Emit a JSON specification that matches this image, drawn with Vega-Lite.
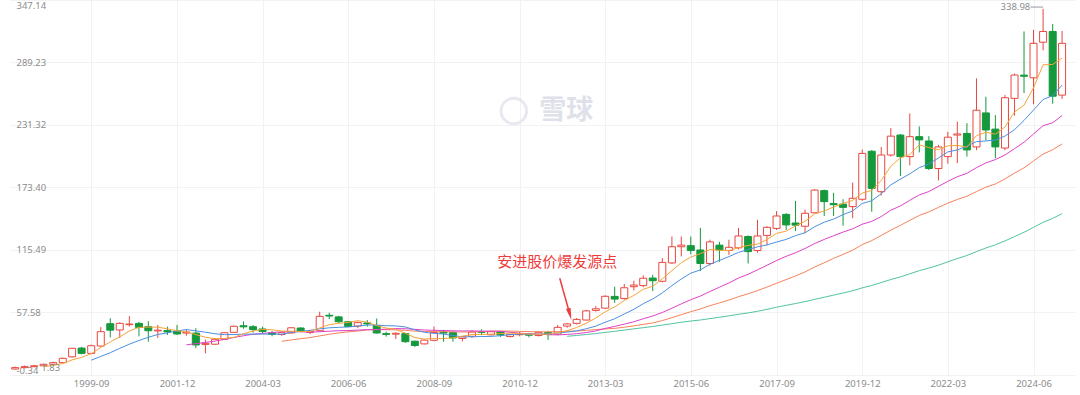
{
  "$schema": "https://vega.github.io/schema/vega-lite/v6.json",
  "width": 1065,
  "height": 375,
  "autosize": {"type": "none"},
  "padding": {"left": 10, "top": 0, "right": 5, "bottom": 20},
  "background": "white",
  "config": {"view": {"stroke": null}, "font": "Noto Sans"},
  "datasets": {
    "k": [
      {"d":"1997-06-30","o":3.0,"h":6.0,"l":1.83,"c":5.2},
      {"d":"1997-09-30","o":5.2,"h":7.5,"l":4.8,"c":6.5},
      {"d":"1997-12-31","o":6.5,"h":8.5,"l":5.8,"c":7.4},
      {"d":"1998-03-31","o":7.4,"h":9.0,"l":6.8,"c":8.2},
      {"d":"1998-06-30","o":8.2,"h":10.2,"l":7.6,"c":9.6},
      {"d":"1998-09-30","o":9.6,"h":12.0,"l":9.0,"c":11.1},
      {"d":"1998-12-31","o":11.1,"h":15.8,"l":10.5,"c":15.1},
      {"d":"1999-03-31","o":16.5,"h":24.8,"l":15.8,"c":24.4},
      {"d":"1999-06-30","o":24.6,"h":25.8,"l":18.8,"c":19.7},
      {"d":"1999-09-30","o":19.7,"h":27.8,"l":19.0,"c":26.8},
      {"d":"1999-12-31","o":26.5,"h":44.0,"l":25.8,"c":39.8},
      {"d":"2000-03-31","o":47.2,"h":52.2,"l":34.5,"c":41.2},
      {"d":"2000-06-30","o":41.4,"h":48.5,"l":34.0,"c":47.5},
      {"d":"2000-09-30","o":46.3,"h":54.3,"l":44.5,"c":46.9},
      {"d":"2000-12-31","o":47.5,"h":49.0,"l":35.5,"c":43.8},
      {"d":"2001-03-31","o":44.4,"h":49.5,"l":30.5,"c":40.7},
      {"d":"2001-06-30","o":40.5,"h":46.0,"l":34.0,"c":41.2},
      {"d":"2001-09-30","o":40.8,"h":44.5,"l":36.7,"c":39.6},
      {"d":"2001-12-31","o":40.4,"h":46.0,"l":36.7,"c":37.7},
      {"d":"2002-03-31","o":38.5,"h":42.0,"l":36.0,"c":39.5},
      {"d":"2002-06-30","o":38.5,"h":43.0,"l":24.5,"c":27.5},
      {"d":"2002-09-30","o":28.0,"h":32.5,"l":19.7,"c":29.0},
      {"d":"2002-12-31","o":28.2,"h":33.5,"l":27.5,"c":32.7},
      {"d":"2003-03-31","o":32.8,"h":39.5,"l":32.0,"c":38.8},
      {"d":"2003-06-30","o":39.2,"h":45.5,"l":38.8,"c":44.8},
      {"d":"2003-09-30","o":45.3,"h":49.2,"l":42.5,"c":44.3},
      {"d":"2003-12-31","o":44.4,"h":46.0,"l":38.9,"c":41.7},
      {"d":"2004-03-31","o":42.3,"h":44.5,"l":38.3,"c":39.9},
      {"d":"2004-06-30","o":38.8,"h":40.5,"l":35.5,"c":37.2},
      {"d":"2004-09-30","o":37.2,"h":39.8,"l":36.0,"c":38.9},
      {"d":"2004-12-31","o":38.6,"h":44.0,"l":38.0,"c":43.4},
      {"d":"2005-03-31","o":43.2,"h":43.8,"l":39.5,"c":39.9},
      {"d":"2005-06-30","o":39.0,"h":41.5,"l":37.5,"c":40.2},
      {"d":"2005-09-30","o":40.7,"h":58.3,"l":39.8,"c":54.0},
      {"d":"2005-12-31","o":55.0,"h":57.4,"l":51.5,"c":54.3},
      {"d":"2006-03-31","o":53.5,"h":54.5,"l":48.0,"c":49.0},
      {"d":"2006-06-30","o":49.0,"h":49.5,"l":44.0,"c":44.6},
      {"d":"2006-09-30","o":45.0,"h":49.3,"l":43.0,"c":48.2},
      {"d":"2006-12-31","o":47.9,"h":50.5,"l":44.5,"c":47.0},
      {"d":"2007-03-31","o":45.5,"h":52.0,"l":38.0,"c":38.6},
      {"d":"2007-06-30","o":38.0,"h":39.8,"l":35.2,"c":37.3},
      {"d":"2007-09-30","o":37.5,"h":39.2,"l":33.0,"c":38.3},
      {"d":"2007-12-31","o":38.0,"h":38.8,"l":29.5,"c":30.5},
      {"d":"2008-03-31","o":31.0,"h":31.5,"l":25.5,"c":27.0},
      {"d":"2008-06-30","o":28.5,"h":32.5,"l":28.0,"c":32.0},
      {"d":"2008-09-30","o":31.8,"h":44.5,"l":31.0,"c":39.0},
      {"d":"2008-12-31","o":39.5,"h":41.5,"l":30.5,"c":38.5},
      {"d":"2009-03-31","o":39.0,"h":40.0,"l":30.5,"c":34.0},
      {"d":"2009-06-30","o":33.5,"h":35.5,"l":30.8,"c":35.0},
      {"d":"2009-09-30","o":35.5,"h":41.0,"l":34.0,"c":39.5},
      {"d":"2009-12-31","o":39.8,"h":42.0,"l":36.5,"c":39.2},
      {"d":"2010-03-31","o":36.9,"h":40.5,"l":36.5,"c":39.8},
      {"d":"2010-06-30","o":39.8,"h":40.5,"l":35.0,"c":36.8},
      {"d":"2010-09-30","o":35.3,"h":37.8,"l":34.5,"c":37.0},
      {"d":"2010-12-31","o":37.0,"h":39.5,"l":35.5,"c":37.5},
      {"d":"2011-03-31","o":37.5,"h":38.5,"l":34.5,"c":36.5},
      {"d":"2011-06-30","o":36.2,"h":40.0,"l":35.5,"c":39.2},
      {"d":"2011-09-30","o":39.0,"h":40.5,"l":32.2,"c":37.2},
      {"d":"2011-12-31","o":37.5,"h":46.0,"l":36.5,"c":43.8},
      {"d":"2012-03-31","o":45.0,"h":48.0,"l":43.5,"c":47.0},
      {"d":"2012-06-30","o":47.5,"h":52.5,"l":46.5,"c":51.2},
      {"d":"2012-09-30","o":50.6,"h":60.0,"l":50.0,"c":59.1},
      {"d":"2012-12-31","o":59.5,"h":63.5,"l":58.5,"c":61.0},
      {"d":"2013-03-31","o":61.6,"h":73.5,"l":61.0,"c":72.6},
      {"d":"2013-06-30","o":72.5,"h":81.5,"l":66.5,"c":70.0},
      {"d":"2013-09-30","o":70.5,"h":84.0,"l":69.5,"c":80.5},
      {"d":"2013-12-31","o":81.5,"h":87.0,"l":78.0,"c":83.0},
      {"d":"2014-03-31","o":82.5,"h":92.0,"l":81.0,"c":89.3},
      {"d":"2014-06-30","o":89.5,"h":92.5,"l":77.5,"c":87.0},
      {"d":"2014-09-30","o":86.5,"h":108.0,"l":85.5,"c":104.0},
      {"d":"2014-12-31","o":103.5,"h":128.0,"l":102.5,"c":118.5},
      {"d":"2015-03-31","o":118.5,"h":128.0,"l":109.5,"c":120.0},
      {"d":"2015-06-30","o":119.5,"h":128.0,"l":111.5,"c":115.0},
      {"d":"2015-09-30","o":115.5,"h":136.0,"l":96.0,"c":103.0},
      {"d":"2015-12-31","o":103.0,"h":125.0,"l":101.0,"c":123.0},
      {"d":"2016-03-31","o":120.0,"h":123.0,"l":104.5,"c":115.5},
      {"d":"2016-06-30","o":115.0,"h":125.0,"l":111.0,"c":118.0},
      {"d":"2016-09-30","o":117.5,"h":136.0,"l":116.0,"c":128.5},
      {"d":"2016-12-31","o":128.0,"h":129.0,"l":103.0,"c":114.0},
      {"d":"2017-03-31","o":115.0,"h":143.5,"l":113.0,"c":128.5},
      {"d":"2017-06-30","o":129.0,"h":137.5,"l":120.0,"c":136.5},
      {"d":"2017-09-30","o":135.5,"h":151.5,"l":134.0,"c":147.0},
      {"d":"2017-12-31","o":148.5,"h":149.5,"l":134.0,"c":138.7},
      {"d":"2018-03-31","o":140.5,"h":161.0,"l":133.0,"c":138.5},
      {"d":"2018-06-30","o":137.5,"h":153.0,"l":131.0,"c":149.5},
      {"d":"2018-09-30","o":150.0,"h":172.0,"l":149.5,"c":171.0},
      {"d":"2018-12-31","o":170.5,"h":171.5,"l":147.0,"c":160.3},
      {"d":"2019-03-31","o":158.5,"h":168.5,"l":147.0,"c":157.5},
      {"d":"2019-06-30","o":158.0,"h":162.5,"l":138.0,"c":155.0},
      {"d":"2019-09-30","o":155.7,"h":178.0,"l":145.0,"c":163.4},
      {"d":"2019-12-31","o":162.5,"h":208.5,"l":161.0,"c":205.0},
      {"d":"2020-03-31","o":207.0,"h":208.0,"l":151.0,"c":172.6},
      {"d":"2020-06-30","o":169.5,"h":211.0,"l":166.0,"c":203.5},
      {"d":"2020-09-30","o":203.5,"h":228.5,"l":202.0,"c":221.0},
      {"d":"2020-12-31","o":222.0,"h":223.0,"l":184.0,"c":202.0},
      {"d":"2021-03-31","o":202.0,"h":242.0,"l":194.0,"c":220.5},
      {"d":"2021-06-30","o":220.5,"h":230.0,"l":206.0,"c":217.5},
      {"d":"2021-09-30","o":216.5,"h":221.0,"l":189.5,"c":191.0},
      {"d":"2021-12-31","o":191.0,"h":213.0,"l":180.0,"c":211.0},
      {"d":"2022-03-31","o":202.0,"h":225.0,"l":195.5,"c":220.0},
      {"d":"2022-06-30","o":222.0,"h":234.5,"l":196.0,"c":223.0},
      {"d":"2022-09-30","o":223.5,"h":233.0,"l":202.0,"c":208.2},
      {"d":"2022-12-31","o":211.0,"h":274.5,"l":208.0,"c":245.0},
      {"d":"2023-03-31","o":242.5,"h":257.5,"l":217.0,"c":226.7},
      {"d":"2023-06-30","o":227.5,"h":240.5,"l":200.5,"c":211.0},
      {"d":"2023-09-30","o":210.0,"h":259.0,"l":208.0,"c":256.6},
      {"d":"2023-12-31","o":256.0,"h":279.0,"l":240.0,"c":277.6},
      {"d":"2024-03-31","o":277.5,"h":318.0,"l":261.0,"c":276.5},
      {"d":"2024-06-30","o":275.0,"h":319.5,"l":250.5,"c":307.0},
      {"d":"2024-09-30","o":308.0,"h":338.98,"l":300.5,"c":318.0},
      {"d":"2024-12-31","o":318.0,"h":325.0,"l":251.0,"c":258.0},
      {"d":"2025-03-31","o":259.0,"h":318.5,"l":255.5,"c":307.0}
    ]
  },
  "layer": [
    {
      "data": {"values": [{"d": "2010-11-05", "v": 244.3}]},
      "mark": {"type": "point", "shape": "circle", "size": 650, "filled": false, "stroke": "#dfe1ea", "strokeWidth": 3, "clip": true},
      "encoding": {
        "x": {"field": "d", "type": "temporal", "title": null, "scale": {"type": "utc", "domain": [{"year": 1997, "month": 9, "date": 29, "utc": true}, {"year": 2025, "month": 6, "date": 15, "utc": true}]}},
        "y": {"field": "v", "type": "quantitative", "title": null, "scale": {"domain": [-0.34, 347.14], "nice": false, "zero": false}}
      }
    },
    {
      "data": {"values": [{"d": "2012-03-22", "v": 244.3, "t": "雪球"}]},
      "mark": {"type": "text", "font": "Noto Sans CJK SC", "fontSize": 27, "fontWeight": "bold", "color": "#dfe1ea", "align": "center", "baseline": "middle"},
      "encoding": {
        "x": {"field": "d", "type": "temporal", "title": null, "scale": {"type": "utc", "domain": [{"year": 1997, "month": 9, "date": 29, "utc": true}, {"year": 2025, "month": 6, "date": 15, "utc": true}]}},
        "y": {"field": "v", "type": "quantitative", "title": null, "scale": {"domain": [-0.34, 347.14], "nice": false, "zero": false}},
        "text": {"field": "t"}
      }
    },
    {
      "data": {"name": "k"},
      "mark": {"type": "rule", "strokeWidth": 1, "clip": true},
      "encoding": {
        "x": {"field": "d", "type": "temporal", "title": null,
          "scale": {"type": "utc", "domain": [{"year": 1997, "month": 9, "date": 29, "utc": true}, {"year": 2025, "month": 6, "date": 15, "utc": true}]},
          "axis": {"title": null, "format": "%Y-%m", "grid": true, "gridColor": "#f2f2f2", "domain": false, "ticks": false, "labelPadding": 3, "labelColor": "#8c8c8c", "labelFontSize": 9.5, "labelOverlap": false, "labelFlush": false,
            "values": [
              {"year": 1999, "month": 9, "date": 30, "utc": true},
              {"year": 2001, "month": 12, "date": 31, "utc": true},
              {"year": 2004, "month": 3, "date": 31, "utc": true},
              {"year": 2006, "month": 6, "date": 30, "utc": true},
              {"year": 2008, "month": 9, "date": 30, "utc": true},
              {"year": 2010, "month": 12, "date": 31, "utc": true},
              {"year": 2013, "month": 3, "date": 31, "utc": true},
              {"year": 2015, "month": 6, "date": 30, "utc": true},
              {"year": 2017, "month": 9, "date": 30, "utc": true},
              {"year": 2019, "month": 12, "date": 31, "utc": true},
              {"year": 2022, "month": 3, "date": 31, "utc": true},
              {"year": 2024, "month": 6, "date": 30, "utc": true}
            ]}},
        "y": {"field": "l", "type": "quantitative", "title": null,
          "scale": {"domain": [-0.34, 347.14], "nice": false, "zero": false},
          "axis": {"title": null, "values": [-0.34, 57.58, 115.49, 173.40, 231.32, 289.23, 347.14], "labelExpr": "replace(format(datum.value, '.2f'), '\u2212', '-')", "grid": true, "gridColor": "#f2f2f2", "domain": false, "ticks": false, "tickSize": 0, "labelAlign": "left", "labelPadding": -6, "labelFlush": true, "labelColor": "#8c8c8c", "labelFontSize": 9.5, "labelOverlap": false}},
        "y2": {"field": "h"},
        "color": {"condition": {"test": "datum.c >= datum.o", "value": "#e9473f"}, "value": "#14993c"}
      }
    },
    {
      "data": {"name": "k"},
      "mark": {"type": "bar", "width": 7, "strokeWidth": 1, "clip": true},
      "encoding": {
        "x": {"field": "d", "type": "temporal", "title": null, "scale": {"type": "utc", "domain": [{"year": 1997, "month": 9, "date": 29, "utc": true}, {"year": 2025, "month": 6, "date": 15, "utc": true}]}},
        "y": {"field": "o", "type": "quantitative", "title": null, "scale": {"domain": [-0.34, 347.14], "nice": false, "zero": false}},
        "y2": {"field": "c"},
        "fill": {"condition": {"test": "datum.c >= datum.o", "value": "#ffffff"}, "value": "#14993c"},
        "stroke": {"condition": {"test": "datum.c >= datum.o", "value": "#e9473f"}, "value": "#14993c"}
      }
    },
    {
      "data": {"name": "k"},
      "transform": [
        {"window": [{"op": "mean", "field": "c", "as": "ma"}, {"op": "count", "as": "n"}], "frame": [-59, 0], "sort": [{"field": "d"}]},
        {"filter": "datum.n >= 60"}
      ],
      "mark": {"type": "line", "color": "#52c4a0", "strokeWidth": 1, "clip": true},
      "encoding": {
        "x": {"field": "d", "type": "temporal", "title": null, "scale": {"type": "utc", "domain": [{"year": 1997, "month": 9, "date": 29, "utc": true}, {"year": 2025, "month": 6, "date": 15, "utc": true}]}},
        "y": {"field": "ma", "type": "quantitative", "title": null, "scale": {"domain": [-0.34, 347.14], "nice": false, "zero": false}}
      }
    },
    {
      "data": {"name": "k"},
      "transform": [
        {"window": [{"op": "mean", "field": "c", "as": "ma"}, {"op": "count", "as": "n"}], "frame": [-29, 0], "sort": [{"field": "d"}]},
        {"filter": "datum.n >= 30"}
      ],
      "mark": {"type": "line", "color": "#f7825c", "strokeWidth": 1, "clip": true},
      "encoding": {
        "x": {"field": "d", "type": "temporal", "title": null, "scale": {"type": "utc", "domain": [{"year": 1997, "month": 9, "date": 29, "utc": true}, {"year": 2025, "month": 6, "date": 15, "utc": true}]}},
        "y": {"field": "ma", "type": "quantitative", "title": null, "scale": {"domain": [-0.34, 347.14], "nice": false, "zero": false}}
      }
    },
    {
      "data": {"name": "k"},
      "transform": [
        {"window": [{"op": "mean", "field": "c", "as": "ma"}, {"op": "count", "as": "n"}], "frame": [-19, 0], "sort": [{"field": "d"}]},
        {"filter": "datum.n >= 20"}
      ],
      "mark": {"type": "line", "color": "#e040c8", "strokeWidth": 1, "clip": true},
      "encoding": {
        "x": {"field": "d", "type": "temporal", "title": null, "scale": {"type": "utc", "domain": [{"year": 1997, "month": 9, "date": 29, "utc": true}, {"year": 2025, "month": 6, "date": 15, "utc": true}]}},
        "y": {"field": "ma", "type": "quantitative", "title": null, "scale": {"domain": [-0.34, 347.14], "nice": false, "zero": false}}
      }
    },
    {
      "data": {"name": "k"},
      "transform": [
        {"window": [{"op": "mean", "field": "c", "as": "ma"}, {"op": "count", "as": "n"}], "frame": [-9, 0], "sort": [{"field": "d"}]},
        {"filter": "datum.n >= 10"}
      ],
      "mark": {"type": "line", "color": "#4a90e2", "strokeWidth": 1, "clip": true},
      "encoding": {
        "x": {"field": "d", "type": "temporal", "title": null, "scale": {"type": "utc", "domain": [{"year": 1997, "month": 9, "date": 29, "utc": true}, {"year": 2025, "month": 6, "date": 15, "utc": true}]}},
        "y": {"field": "ma", "type": "quantitative", "title": null, "scale": {"domain": [-0.34, 347.14], "nice": false, "zero": false}}
      }
    },
    {
      "data": {"name": "k"},
      "transform": [
        {"window": [{"op": "mean", "field": "c", "as": "ma"}, {"op": "count", "as": "n"}], "frame": [-4, 0], "sort": [{"field": "d"}]},
        {"filter": "datum.n >= 5"}
      ],
      "mark": {"type": "line", "color": "#f6a43a", "strokeWidth": 1, "clip": true},
      "encoding": {
        "x": {"field": "d", "type": "temporal", "title": null, "scale": {"type": "utc", "domain": [{"year": 1997, "month": 9, "date": 29, "utc": true}, {"year": 2025, "month": 6, "date": 15, "utc": true}]}},
        "y": {"field": "ma", "type": "quantitative", "title": null, "scale": {"domain": [-0.34, 347.14], "nice": false, "zero": false}}
      }
    },
    {
      "data": {"values": [{"d1": "2012-01-20", "v1": 89.3, "d2": "2012-04-26", "v2": 56.0}]},
      "mark": {"type": "rule", "color": "#ee3b3b", "strokeWidth": 1.5},
      "encoding": {
        "x": {"field": "d1", "type": "temporal", "title": null, "scale": {"type": "utc", "domain": [{"year": 1997, "month": 9, "date": 29, "utc": true}, {"year": 2025, "month": 6, "date": 15, "utc": true}]}},
        "y": {"field": "v1", "type": "quantitative", "title": null, "scale": {"domain": [-0.34, 347.14], "nice": false, "zero": false}},
        "x2": {"field": "d2"},
        "y2": {"field": "v2"}
      }
    },
    {
      "data": {"values": [{"d": "2012-04-26", "v": 56.0}]},
      "mark": {"type": "point", "shape": "M-0.4,-1L0.4,-1L0,1Z", "size": 144, "filled": true, "color": "#ee3b3b", "opacity": 1, "angle": -15},
      "encoding": {
        "x": {"field": "d", "type": "temporal", "title": null, "scale": {"type": "utc", "domain": [{"year": 1997, "month": 9, "date": 29, "utc": true}, {"year": 2025, "month": 6, "date": 15, "utc": true}]}},
        "y": {"field": "v", "type": "quantitative", "title": null, "scale": {"domain": [-0.34, 347.14], "nice": false, "zero": false}}
      }
    },
    {
      "data": {"values": [{"d": "2011-12-28", "v": 104.8, "t": "安进股价爆发源点"}]},
      "mark": {"type": "text", "font": "Noto Sans CJK SC", "fontSize": 15, "color": "#ee3b3b", "align": "center", "baseline": "middle"},
      "encoding": {
        "x": {"field": "d", "type": "temporal", "title": null, "scale": {"type": "utc", "domain": [{"year": 1997, "month": 9, "date": 29, "utc": true}, {"year": 2025, "month": 6, "date": 15, "utc": true}]}},
        "y": {"field": "v", "type": "quantitative", "title": null, "scale": {"domain": [-0.34, 347.14], "nice": false, "zero": false}},
        "text": {"field": "t"}
      }
    },
    {
      "data": {"values": [{"d1": "2024-06-01", "d2": "2024-09-30", "v": 340.6}]},
      "mark": {"type": "rule", "color": "#9a9a9a", "strokeWidth": 1},
      "encoding": {
        "x": {"field": "d1", "type": "temporal", "title": null, "scale": {"type": "utc", "domain": [{"year": 1997, "month": 9, "date": 29, "utc": true}, {"year": 2025, "month": 6, "date": 15, "utc": true}]}},
        "x2": {"field": "d2"},
        "y": {"field": "v", "type": "quantitative", "title": null, "scale": {"domain": [-0.34, 347.14], "nice": false, "zero": false}}
      }
    },
    {
      "data": {"values": [{"d": "2024-05-30", "v": 340.6, "t": "338.98", "a": "right"}, {"d": "1998-06-09", "v": 6.6, "t": "1.83", "a": "left"}]},
      "mark": {"type": "text", "fontSize": 9.5, "color": "#8c8c8c", "align": {"expr": "datum.a"}, "baseline": "middle"},
      "encoding": {
        "x": {"field": "d", "type": "temporal", "title": null, "scale": {"type": "utc", "domain": [{"year": 1997, "month": 9, "date": 29, "utc": true}, {"year": 2025, "month": 6, "date": 15, "utc": true}]}},
        "y": {"field": "v", "type": "quantitative", "title": null, "scale": {"domain": [-0.34, 347.14], "nice": false, "zero": false}},
        "text": {"field": "t"}
      }
    }
  ]
}
